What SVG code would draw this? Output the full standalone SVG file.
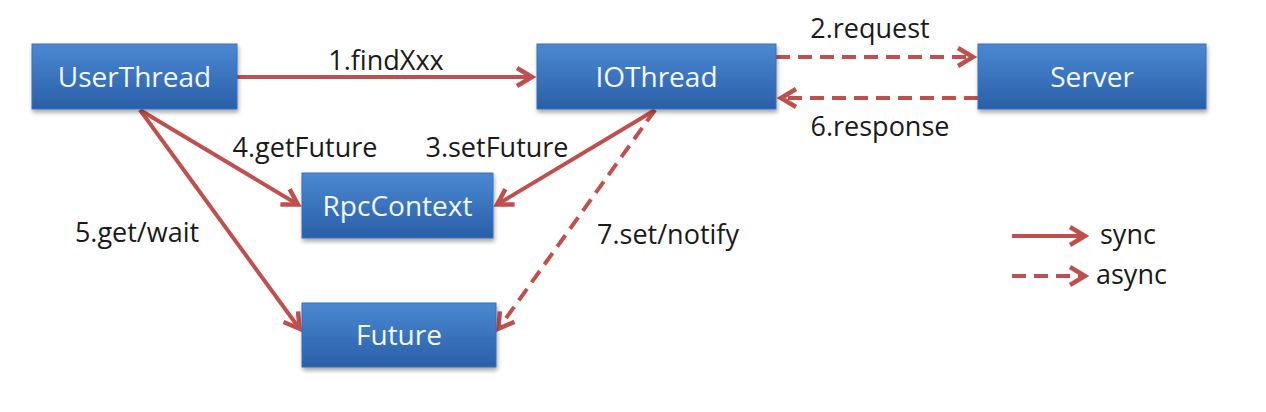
<svg xmlns="http://www.w3.org/2000/svg" width="1266" height="412" viewBox="0 0 1266 412">
<style>
.box{fill:url(#bg);stroke:#3a6fb8;stroke-width:1}
.bt{font-family:"Open Sans","Liberation Sans",sans-serif;font-size:28px;fill:#f4f8ff;text-anchor:middle;dominant-baseline:central}
.lb{font-family:"Open Sans","Liberation Sans",sans-serif;font-size:27px;fill:#1a1a1a}
.c{stroke:#c0504d;stroke-width:4;fill:none;marker-end:url(#ah)}
.d{stroke-dasharray:14 8}
</style>
<defs>
<linearGradient id="bg" x1="0" y1="0" x2="0" y2="1">
<stop offset="0" stop-color="#4b88d2"/>
<stop offset="1" stop-color="#2a5fa8"/>
</linearGradient>
<filter id="sh" x="-10%" y="-10%" width="125%" height="135%">
<feDropShadow dx="1" dy="3" stdDeviation="2" flood-color="#000" flood-opacity="0.35"/>
</filter>
<marker id="ah" markerWidth="10" markerHeight="10" refX="7" refY="5" orient="auto" markerUnits="userSpaceOnUse" viewBox="0 0 10 10" overflow="visible">
<path d="M-7,-4 L8,5 L-7,14" fill="none" stroke="#c0504d" stroke-width="4.5" stroke-linejoin="miter"/>
</marker>
</defs>
<g id="connectors">
<line class="c" x1="237" y1="77" x2="531" y2="77"/>
<line class="c d" x1="776" y1="57" x2="972" y2="57"/>
<line class="c d" x1="978" y1="98" x2="782" y2="98"/>
<line class="c" x1="140" y1="110" x2="297" y2="204"/>
<line class="c" x1="655" y1="110" x2="498" y2="204"/>
<line class="c" x1="140" y1="110" x2="299" y2="328"/>
<line class="c d" x1="655" y1="110" x2="499" y2="328"/>
<text class="lb" x="386" y="70" text-anchor="middle">1.findXxx</text>
<text class="lb" x="870" y="38" text-anchor="middle">2.request</text>
<text class="lb" x="880" y="136" text-anchor="middle">6.response</text>
<text class="lb" x="305" y="157" text-anchor="middle">4.getFuture</text>
<text class="lb" x="497" y="157" text-anchor="middle">3.setFuture</text>
<text class="lb" x="137" y="242" text-anchor="middle">5.get/wait</text>
<text class="lb" x="668" y="244" text-anchor="middle">7.set/notify</text>
</g>
<g id="UserThread"><rect class="box" filter="url(#sh)" x="32" y="44" width="205" height="65"/><text class="bt" x="134.5" y="76">UserThread</text></g>
<g id="IOThread"><rect class="box" filter="url(#sh)" x="537" y="44" width="239" height="65"/><text class="bt" x="656.5" y="76">IOThread</text></g>
<g id="Server"><rect class="box" filter="url(#sh)" x="978" y="44" width="228" height="65"/><text class="bt" x="1092" y="76">Server</text></g>
<g id="RpcContext"><rect class="box" filter="url(#sh)" x="302" y="173" width="191" height="65"/><text class="bt" x="397.5" y="205">RpcContext</text></g>
<g id="Future"><rect class="box" filter="url(#sh)" x="302" y="303" width="194" height="64"/><text class="bt" x="399" y="334">Future</text></g>
<g id="legend">
<line class="c" x1="1012" y1="236" x2="1084" y2="236"/>
<line class="c d" x1="1012" y1="276" x2="1084" y2="276"/>
<text class="lb" x="1100" y="244">sync</text>
<text class="lb" x="1096" y="284">async</text>
</g>
</svg>
